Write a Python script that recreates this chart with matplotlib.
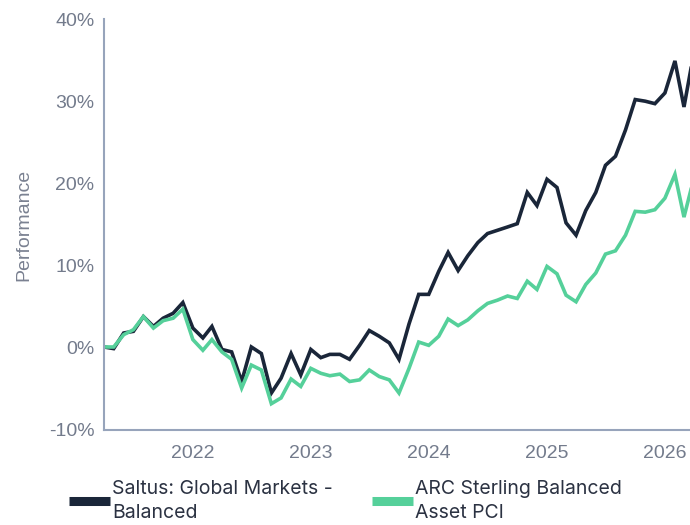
import numpy as np
import pandas as pd
import matplotlib
matplotlib.use("Agg")
import matplotlib.pyplot as plt

# Monthly performance (%) since launch
dates = pd.date_range("2021-04-01", periods=61, freq="MS")

saltus = [0.1, -0.1, 1.8, 2.0, 3.8, 2.6, 3.6, 4.2, 5.5, 2.4,
          1.2, 2.6, -0.2, -0.5, -4.1, 0.1, -0.7, -5.5, -3.7, -0.7,
          -3.3, -0.2, -1.2, -0.8, -0.8, -1.4, 0.3, 2.1, 1.4, 0.6,
          -1.4, 2.9, 6.5, 6.5, 9.3, 11.6, 9.4, 11.2, 12.8, 13.9,
          14.3, 14.7, 15.1, 18.9, 17.3, 20.5, 19.5, 15.2, 13.7, 16.7,
          18.9, 22.2, 23.3, 26.5, 30.2, 30.0, 29.7, 31.0, 34.9, 29.3,
          36.0]

arc = [0.1, 0.1, 1.6, 2.2, 3.8, 2.4, 3.3, 3.6, 4.7, 1.0,
       -0.3, 1.0, -0.5, -1.4, -4.9, -2.1, -2.7, -6.8, -6.1, -3.8,
       -4.7, -2.5, -3.1, -3.4, -3.2, -4.1, -3.9, -2.7, -3.5, -3.9,
       -5.5, -2.5, 0.7, 0.3, 1.4, 3.5, 2.7, 3.4, 4.5, 5.4,
       5.8, 6.3, 6.0, 8.1, 7.1, 9.9, 9.0, 6.4, 5.6, 7.7,
       9.1, 11.4, 11.8, 13.7, 16.6, 16.5, 16.8, 18.2, 21.1, 15.9,
       20.7]

labels = ["Saltus: Global Markets -\nBalanced", "ARC Sterling Balanced\nAsset PCI"]
colors = ["#1a2639", "#55d09a"]
yticks = [-10, 0, 10, 20, 30, 40]
ytick_labels = ["-10%", "0%", "10%", "20%", "30%", "40%"]
year_ticks = pd.to_datetime(["2022-01-01", "2023-01-01", "2024-01-01", "2025-01-01", "2026-01-01"])

W, H = 690, 525
fig = plt.figure(figsize=(W / 100, H / 100), dpi=100)
ax = fig.add_axes([104 / W, (H - 430) / H, (694 - 104) / W, (430 - 19) / H])

ax.plot(dates, saltus, color=colors[0], lw=2.6, label=labels[0], solid_joinstyle="miter")
ax.plot(dates, arc, color=colors[1], lw=2.6, label=labels[1], solid_joinstyle="miter")

ax.set_xlim(dates[0], dates[-1])
ax.set_ylim(-10, 40)

spine_col = "#97a4bb"
for s in ["top", "right"]:
    ax.spines[s].set_visible(False)
for s in ["left", "bottom"]:
    ax.spines[s].set_color(spine_col)
    ax.spines[s].set_linewidth(1.5)

tick_font = dict(family="Liberation Sans", size=14, color="#737b8c")
ax.set_yticks(yticks)
ax.set_yticklabels(ytick_labels, **tick_font)
ax.set_xticks(year_ticks)
ax.set_xticklabels([str(d.year) for d in year_ticks], **tick_font)
ax.tick_params(axis="both", length=0)
ax.tick_params(axis="y", pad=7)
ax.tick_params(axis="x", pad=11)

ax.set_ylabel("Performance", family="Liberation Sans", size=14, color="#7a8191", labelpad=12)

leg = ax.legend(loc="upper left", bbox_to_anchor=(69 / W, (H - 480) / H),
                bbox_transform=fig.transFigure, ncol=2, frameon=False,
                prop={"family": "Inter", "size": 14},
                handlelength=2.1, handleheight=0.7, handletextpad=0.1,
                columnspacing=2.05, borderpad=0, borderaxespad=0)
for line in leg.get_lines():
    line.set_linewidth(6.5)
    line.set_solid_capstyle("butt")
for t in leg.get_texts():
    t.set_color("#2b3242")
    t.set_linespacing(1.45)

fig.savefig("out.png", dpi=100)
